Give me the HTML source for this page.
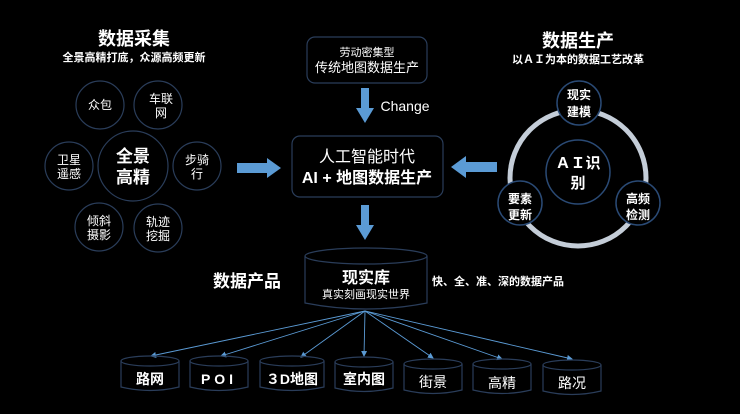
<!DOCTYPE html>
<html><head><meta charset="utf-8"><style>
html,body{margin:0;padding:0;background:#000;width:740px;height:414px;overflow:hidden}
svg{display:block}
text{font-family:"Liberation Sans","Noto Sans CJK SC",sans-serif;fill:#fff;text-anchor:middle}
.b{font-weight:bold}
</style></head><body>
<svg width="740" height="414" viewBox="0 0 740 414" xmlns="http://www.w3.org/2000/svg">
<defs>
<marker id="ah" markerWidth="6" markerHeight="6" refX="5" refY="3" orient="auto" markerUnits="userSpaceOnUse"><path d="M0,0 L6,3 L0,6 z" fill="#5b9bd5"/></marker>
</defs>
<rect width="740" height="414" fill="#000"/>
<!-- left -->
<text x="134" y="45" font-size="18" class="b">数据采集</text>
<text x="134" y="61" font-size="11" class="b">全景高精打底，众源高频更新</text>
<g fill="none" stroke="#2a3d5a" stroke-width="1.2">
<circle cx="100" cy="105" r="24"/><circle cx="158" cy="105" r="24"/>
<circle cx="133" cy="166" r="35"/><circle cx="69" cy="166" r="24"/>
<circle cx="197" cy="166" r="24"/><circle cx="99" cy="227" r="24"/>
<circle cx="158" cy="228" r="24"/>
</g>
<g font-size="12" fill="#ddd">
<text x="100" y="109">众包</text>
<text x="161" y="103">车联</text><text x="161" y="117">网</text>
<text x="69" y="164">卫星</text><text x="69" y="178">遥感</text>
<text x="197" y="164">步骑</text><text x="197" y="178">行</text>
<text x="99" y="225">倾斜</text><text x="99" y="239">摄影</text>
<text x="158" y="226">轨迹</text><text x="158" y="240">挖掘</text>
</g>
<text x="133" y="162" font-size="17" class="b">全景</text>
<text x="133" y="183" font-size="17" class="b">高精</text>
<!-- center -->
<rect x="307" y="37" width="120" height="46" rx="8" fill="none" stroke="#2a3d5a" stroke-width="1.2"/>
<text x="367" y="56" font-size="11" fill="#ddd">劳动密集型</text>
<text x="367" y="72" font-size="13" fill="#ddd">传统地图数据生产</text>
<path d="M361,88 h8 v20 h5 l-9,15 l-9,-15 h5 z" fill="#5b9bd5"/>
<text x="405" y="111" font-size="14" fill="#eee">Change</text>
<rect x="292" y="136" width="151" height="61" rx="8" fill="none" stroke="#2a3d5a" stroke-width="1.2"/>
<text x="367" y="162" font-size="16">人工智能时代</text>
<text x="367" y="183" font-size="16" class="b">AI + 地图数据生产</text>
<path d="M361,205 h8 v20 h5 l-9,15 l-9,-15 h5 z" fill="#5b9bd5"/>
<path d="M237,163 h30 v-5 l14,10 l-14,10 v-5 h-30 z" fill="#5b9bd5"/>
<path d="M497,162 h-31 v-6 l-15,11 l15,11 v-6 h31 z" fill="#5b9bd5"/>
<!-- right -->
<text x="578" y="47" font-size="18" class="b">数据生产</text>
<text x="578" y="63" font-size="11" class="b">以ＡＩ为本的数据工艺改革</text>
<circle cx="578" cy="178" r="68" fill="none" stroke="#c4cdd8" stroke-width="5"/>
<circle cx="578" cy="172" r="32" fill="#000" stroke="#2a4a75" stroke-width="1.5"/>
<text x="578" y="168" font-size="15" class="b">ＡＩ识</text>
<text x="578" y="188" font-size="15" class="b">别</text>
<g fill="#000" stroke="#2a4a75" stroke-width="1.5">
<circle cx="579" cy="103" r="22"/><circle cx="520" cy="203" r="22"/><circle cx="638" cy="203" r="22"/>
</g>
<g font-size="12" class="b">
<text x="579" y="99">现实</text><text x="579" y="116">建模</text>
<text x="520" y="203">要素</text><text x="520" y="219">更新</text>
<text x="638" y="203">高频</text><text x="638" y="219">检测</text>
</g>
<!-- bottom -->
<text x="247" y="287" font-size="17" class="b">数据产品</text>
<text x="498" y="285" font-size="11" class="b">快、全、准、深的数据产品</text>
<g fill="none" stroke="#2a3d5a" stroke-width="1.2">
<ellipse cx="366" cy="256" rx="61" ry="8"/>
<path d="M305,256 v47 q61,12 122,0 v-47"/>
</g>
<text x="366" y="283" font-size="16" class="b">现实库</text>
<text x="366" y="298" font-size="11" fill="#ddd">真实刻画现实世界</text>
<g stroke="#5b9bd5" stroke-width="0.9" marker-end="url(#ah)">
<line x1="365" y1="311" x2="151" y2="356"/>
<line x1="365" y1="311" x2="221" y2="356"/>
<line x1="365" y1="311" x2="301" y2="357"/>
<line x1="365" y1="311" x2="364" y2="356"/>
<line x1="365" y1="311" x2="433" y2="358"/>
<line x1="365" y1="311" x2="502" y2="359"/>
<line x1="365" y1="311" x2="572" y2="359"/>
</g>
<g fill="none" stroke="#2a3d5a" stroke-width="1.2">
<g transform="translate(121,0)"><ellipse cx="29" cy="361" rx="29" ry="5"/><path d="M0,361 v26 q29,7 58,0 v-26"/></g>
<g transform="translate(190,0)"><ellipse cx="29" cy="361" rx="29" ry="5"/><path d="M0,361 v26 q29,7 58,0 v-26"/></g>
<g transform="translate(260,0)"><ellipse cx="32" cy="361" rx="32" ry="5"/><path d="M0,361 v26 q32,7 64,0 v-26"/></g>
<g transform="translate(335,0)"><ellipse cx="29" cy="362" rx="29" ry="5"/><path d="M0,362 v26 q29,7 58,0 v-26"/></g>
<g transform="translate(404,0)"><ellipse cx="29" cy="364" rx="29" ry="5"/><path d="M0,364 v26 q29,7 58,0 v-26"/></g>
<g transform="translate(473,0)"><ellipse cx="29" cy="364" rx="29" ry="5"/><path d="M0,364 v26 q29,7 58,0 v-26"/></g>
<g transform="translate(543,0)"><ellipse cx="29" cy="365" rx="29" ry="5"/><path d="M0,365 v26 q29,7 58,0 v-26"/></g>
</g>
<g font-size="14">
<text x="150" y="384" class="b">路网</text>
<text x="219" y="384" class="b" letter-spacing="4">POI</text>
<text x="292" y="384" class="b">３D地图</text>
<text x="364" y="384" class="b">室内图</text>
<text x="433" y="387" fill="#ddd">街景</text>
<text x="502" y="388" fill="#ddd">高精</text>
<text x="572" y="388" fill="#ddd">路况</text>
</g>
</svg>
</body></html>
